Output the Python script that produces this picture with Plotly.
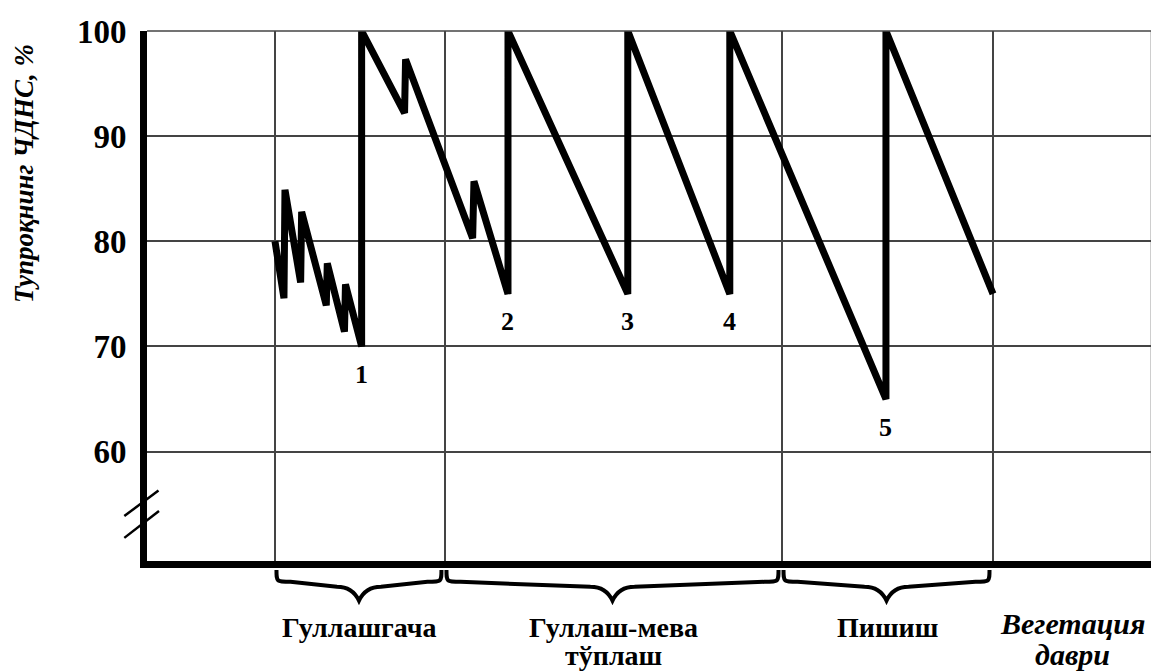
import plotly.graph_objects as go

# ---- data ----
# soil moisture, % of field capacity (ЧДНС) over the vegetation period
x_vals = [13.07, 13.96, 14.06, 15.61, 15.71, 18.15, 18.25, 19.95, 20.05, 21.65, 21.65,
          25.9, 26.0, 32.64, 32.77, 36.14, 36.14, 48.0, 48.0, 58.1, 58.1, 73.56, 73.56, 84.16]
y_vals = [80, 74.6, 84.9, 76.1, 82.8, 73.9, 77.9, 71.4, 75.9, 70, 100,
          92.2, 97.3, 80.3, 85.7, 75, 100, 75, 100, 75, 100, 65, 100, 75]

# irrigation events (numbered lows)
irrig_x = [21.65, 36.14, 48.0, 58.1, 73.56]
irrig_low = [70, 75, 75, 75, 65]
irrig_labels = ["1", "2", "3", "4", "5"]

# y ticks
y_ticks = [60, 70, 80, 90, 100]
y_ticklabels = ["60", "70", "80", "90", "100"]

# vertical grid (phase boundaries)
phase_bounds = [13.07, 29.9, 63.27, 84.16]
phase_names = ["Гуллашгача", "Гуллаш-мева", "Пишиш"]
phase_second_line = ["", "тўплаш", ""]

y_title = "Тупроқнинг ЧДНС, %"
x_title_1 = "Вегетация"
x_title_2 = "даври"

X_RANGE = [0.4, 100.0]
Y_RANGE = [49.6, 100.0]

# the page places the figure 8px from the top-left corner of the window
OFF = 8
W, H = 1159 - OFF, 672 - OFF
ML, MT = 147 - OFF, 27 - OFF
MR = W - (1153 - OFF)
MB = H - (561 - OFF)
PW = W - ML - MR
PH = H - MT - MB

SERIF = "Liberation Serif, Times New Roman, serif"


def xp(x):
    return (x - X_RANGE[0]) / (X_RANGE[1] - X_RANGE[0])


def yp_px(py):
    # page pixel row -> paper y
    return (H - MB - (py - OFF)) / PH


def xp_px(px):
    # page pixel column -> paper x
    return ((px - OFF) - ML) / PW


fig = go.Figure()
fig.add_trace(go.Scatter(
    x=x_vals, y=y_vals, mode="lines",
    line=dict(color="black", width=7),
    hoverinfo="skip", showlegend=False,
))

shapes = []
# top and right borders
shapes.append(dict(type="line", xref="paper", yref="paper", x0=0, x1=1, y0=1, y1=1,
                   line=dict(color="#444", width=1.5)))
shapes.append(dict(type="line", xref="paper", yref="paper", x0=0.9985, x1=0.9985, y0=0, y1=1,
                   line=dict(color="#444", width=1.5)))

# axis break marks
for (a, b) in [((124.3, 515.7), (158.5, 490.0)), ((124.3, 537.7), (159.0, 510.7))]:
    shapes.append(dict(type="line", xref="paper", yref="paper",
                       x0=xp_px(a[0]), y0=yp_px(a[1]), x1=xp_px(b[0]), y1=yp_px(b[1]),
                       line=dict(color="black", width=2.5)))

# braces under phases
yt, ym, ym2, ytip = yp_px(570), yp_px(582), yp_px(587), yp_px(601)
hx = 14 / PW
bx = 22 / PW
for i in range(len(phase_names)):
    x0 = xp(phase_bounds[i]) + 1.5 / PW
    x1 = xp(phase_bounds[i + 1]) - 3.5 / PW
    xm = (x0 + x1) / 2
    path = (f"M {x0},{yt} C {x0},{ym} {x0},{ym} {x0 + hx},{ym} "
            f"L {xm - bx},{ym2} Q {xm - bx * 0.3},{ym2} {xm},{ytip} "
            f"Q {xm + bx * 0.3},{ym2} {xm + bx},{ym2} "
            f"L {x1 - hx},{ym} C {x1},{ym} {x1},{ym} {x1},{yt}")
    shapes.append(dict(type="path", xref="paper", yref="paper", path=path,
                       line=dict(color="black", width=4)))

annotations = []
# irrigation numbers
for xv, yv, t in zip(irrig_x, irrig_low, irrig_labels):
    annotations.append(dict(x=xv, y=yv, xref="x", yref="y", text=f"<b>{t}</b>",
                            showarrow=False, yshift=-28, yanchor="middle",
                            font=dict(family=SERIF, size=26, color="black")))

# phase labels
for i, name in enumerate(phase_names):
    xm = (xp(phase_bounds[i]) + xp(phase_bounds[i + 1])) / 2
    annotations.append(dict(x=xm, y=yp_px(628), xref="paper", yref="paper",
                            text=f"<b>{name}</b>", showarrow=False,
                            xanchor="center", yanchor="middle",
                            font=dict(family=SERIF, size=28, color="black")))
    if phase_second_line[i]:
        annotations.append(dict(x=xm, y=yp_px(656), xref="paper", yref="paper",
                                text=f"<b>{phase_second_line[i]}</b>", showarrow=False,
                                xanchor="center", yanchor="middle",
                                font=dict(family=SERIF, size=28, color="black")))

# x title (bottom right)
annotations.append(dict(x=xp_px(1072), y=yp_px(624), xref="paper", yref="paper",
                        text=f"<b><i>{x_title_1}</i></b>", showarrow=False,
                        xanchor="center", yanchor="middle",
                        font=dict(family=SERIF, size=30, color="black")))
annotations.append(dict(x=xp_px(1072), y=yp_px(655), xref="paper", yref="paper",
                        text=f"<b><i>{x_title_2}</i></b>", showarrow=False,
                        xanchor="center", yanchor="middle",
                        font=dict(family=SERIF, size=30, color="black")))

# y title
annotations.append(dict(x=xp_px(24), y=yp_px(171), xref="paper", yref="paper",
                        text=f"<b><i>{y_title}</i></b>", showarrow=False, textangle=-90,
                        xanchor="center", yanchor="middle",
                        font=dict(family=SERIF, size=27, color="black")))

fig.update_layout(
    width=W, height=H,
    margin=dict(l=ML, r=MR, t=MT, b=MB),
    paper_bgcolor="white", plot_bgcolor="white",
    shapes=shapes, annotations=annotations,
    showlegend=False,
    xaxis=dict(range=X_RANGE, tickvals=phase_bounds, showticklabels=False,
               showgrid=True, gridcolor="#444", gridwidth=1.5,
               showline=True, linecolor="black", linewidth=7,
               zeroline=False, ticks="", fixedrange=True),
    yaxis=dict(range=Y_RANGE, tickvals=y_ticks,
               ticktext=[f"<b>{t}</b>" for t in y_ticklabels],
               tickfont=dict(family=SERIF, size=33, color="black"),
               ticklabelstandoff=7,
               showgrid=True, gridcolor="#444", gridwidth=1.5,
               showline=True, linecolor="black", linewidth=7,
               zeroline=False, ticks="", fixedrange=True),
)

fig.write_html("out.html")
